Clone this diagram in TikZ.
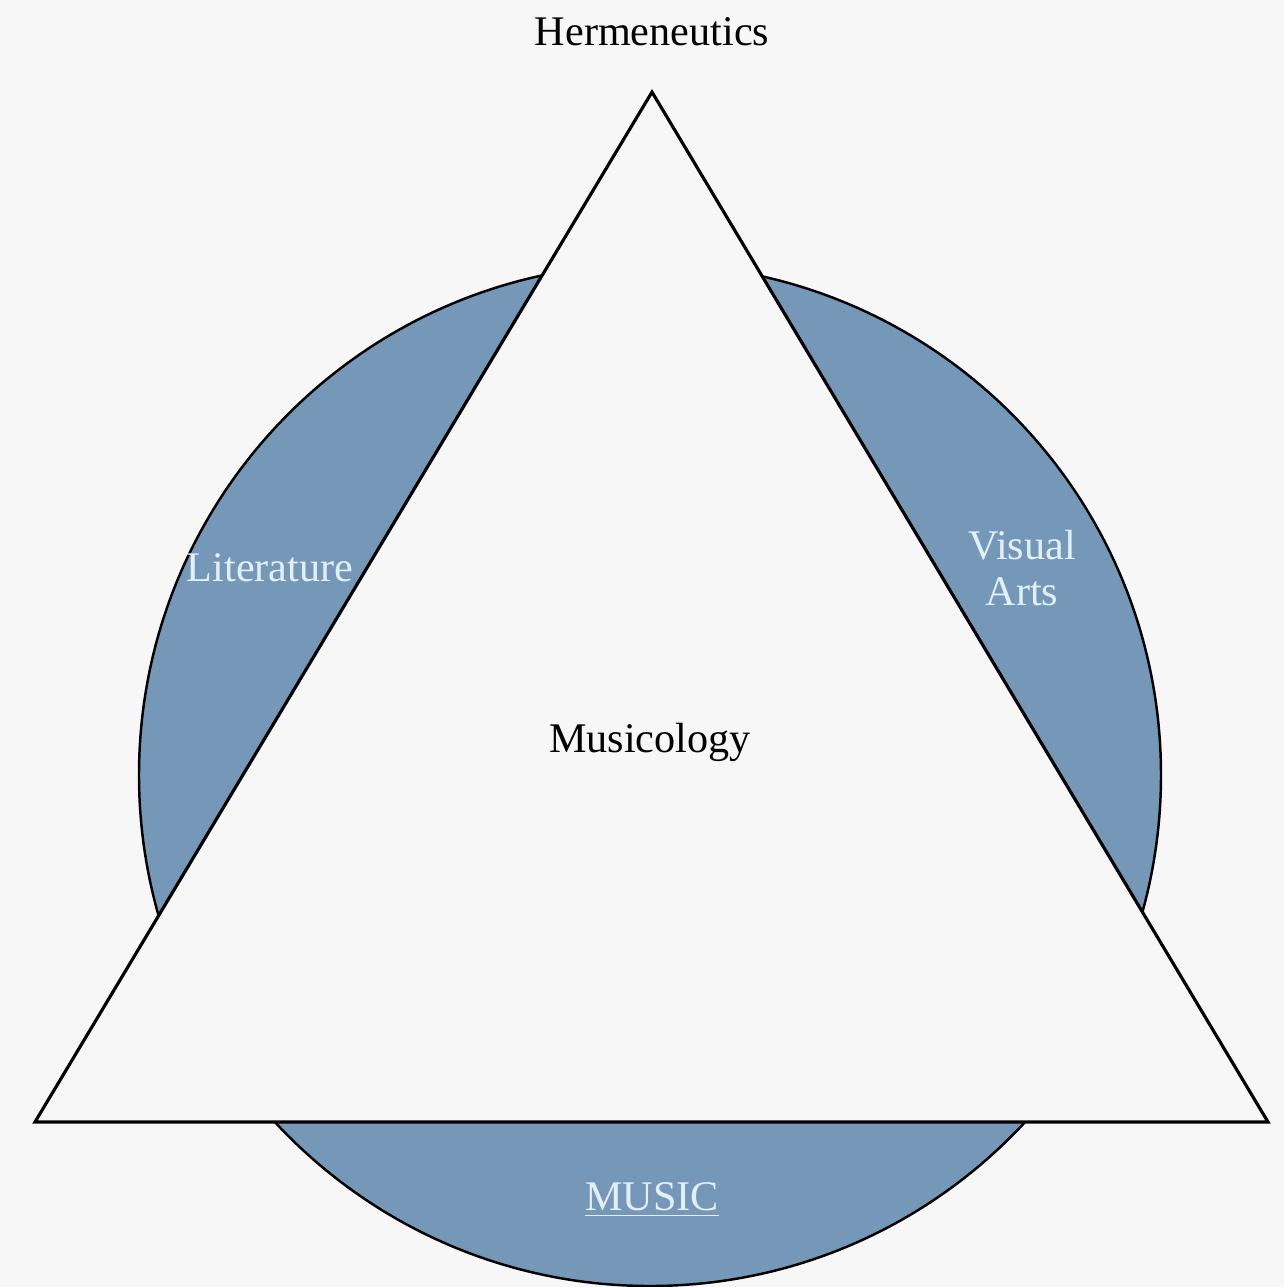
\documentclass[tikz,border=0pt]{standalone}
\usepackage{xcolor}
\usepackage{fontspec}
\setmainfont{Liberation Serif}

\definecolor{artblue}{HTML}{7598B8}
\definecolor{paper}{HTML}{F7F7F7}
\definecolor{labelblue}{HTML}{E4F0FF}

\begin{document}
\begin{tikzpicture}[x=0.01cm, y=-0.01cm, font=\fontsize{12}{13}\selectfont]
    \fill[paper] (0,0) rectangle (1284,1287);
    \useasboundingbox (0,0) rectangle (1284,1287);

    \coordinate (top) at (652,92);
    \coordinate (left) at (35,1122);
    \coordinate (right) at (1268,1122);

    \draw[fill=artblue, line width=0.7pt] (650,775) circle (511);
    \draw[fill=paper, line width=0.9pt, line join=miter] (top) -- (right) -- (left) -- cycle;

    \node (herm) at (652,32) {Hermeneutics};
    \node (musicology) at (650,742) {Musicology};
    \node (lit) [text=labelblue] at (270,568) {Literature};
    \node (visual) [text=labelblue, align=center] at (1022,568) {Visual\\Arts};
    \node (music) [text=labelblue] at (652,1200) {\underline{MUSIC}};
\end{tikzpicture}
\end{document}
